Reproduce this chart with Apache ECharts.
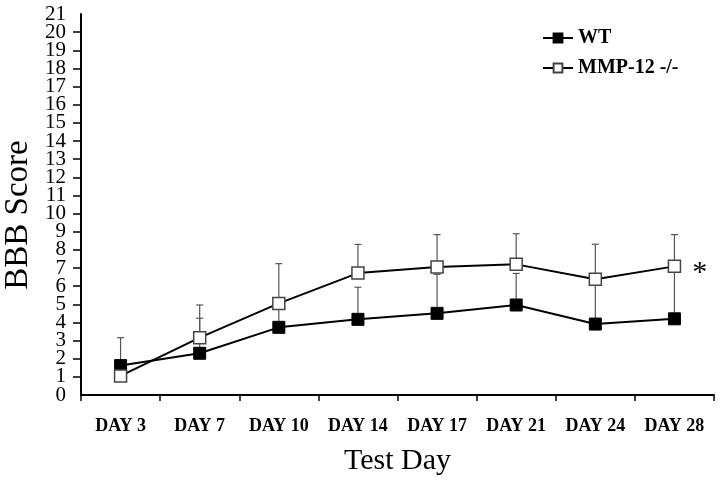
<!DOCTYPE html>
<html>
<head>
<meta charset="utf-8">
<script src="https://cdn.jsdelivr.net/npm/echarts@6/dist/echarts.min.js"></script>
<style>html,body{margin:0;padding:0;background:#fff}#c{width:720px;height:483px}</style>
</head>
<body>
<div id="c"></div>
<script>
const categories = ['DAY 3','DAY 7','DAY 10','DAY 14','DAY 17','DAY 21','DAY 24','DAY 28'];
const wtMean  = [1.62, 2.30, 3.73, 4.17, 4.50, 4.96, 3.91, 4.20];
const wtErr   = [1.54, 1.93, 1.27, 1.77, 2.15, 1.74, 2.45, 2.85];
const mmpMean = [1.05, 3.16, 5.05, 6.72, 7.06, 7.20, 6.38, 7.09];
const mmpErr  = [0.30, 1.80, 2.19, 1.58, 1.78, 1.69, 1.93, 1.75];
const mmpMarks = ['', '', '', '', '', '', '', '*'];
const yTicks = [0, 21, 1]; // min, max, interval

const FONT = "'Liberation Serif','Times New Roman',serif";

function errData(mean, err) {
  return mean.map((m, i) => [i, m, m + err[i]]);
}
function errSeries(mean, err, name) {
  return {
    type: 'custom',
    name: name + ' err',
    z: 1,
    silent: true,
    data: errData(mean, err),
    encode: { x: 0, y: [1, 2] },
    renderItem: function (params, api) {
      const x = api.value(0);
      const lo = api.coord([x, api.value(1)]);
      const hi = api.coord([x, api.value(2)]);
      const hw = 3.5;
      const st = { stroke: '#555', lineWidth: 1.2 };
      return {
        type: 'group',
        children: [
          { type: 'line', shape: { x1: lo[0], y1: lo[1], x2: hi[0], y2: hi[1] }, style: st },
          { type: 'line', shape: { x1: hi[0] - hw, y1: hi[1], x2: hi[0] + hw, y2: hi[1] }, style: st }
        ]
      };
    }
  };
}

const yLabelStyle = { margin: 15, fontFamily: FONT, fontSize: 21, color: '#000', hideOverlap: false };

const chart = echarts.init(document.getElementById('c'), null, { renderer: 'canvas' });
chart.setOption({
  animation: false,
  backgroundColor: '#fff',
  grid: { left: 81, right: 6, top: 14, bottom: 88, containLabel: false },
  legend: {
    orient: 'vertical',
    left: 537,
    top: 23,
    itemWidth: 30,
    itemHeight: 11,
    itemGap: 10,
    data: ['WT', 'MMP-12 -/-'],
    textStyle: { fontFamily: FONT, fontWeight: 'bold', fontSize: 20, color: '#000', lineHeight: 20 }
  },
  xAxis: {
    type: 'category',
    data: categories,
    boundaryGap: true,
    name: 'Test Day',
    nameLocation: 'middle',
    nameGap: 51,
    nameTextStyle: { fontFamily: FONT, fontSize: 30, color: '#000' },
    axisLine: { lineStyle: { color: '#000', width: 2 } },
    axisTick: { show: true, length: 6, lineStyle: { color: '#000', width: 1.5 } },
    axisLabel: { margin: 22, fontFamily: FONT, fontWeight: 'bold', fontSize: 18, color: '#000' },
    splitLine: { show: false }
  },
  yAxis: [{
    type: 'value',
    position: 'left',
    min: yTicks[0],
    max: yTicks[1],
    interval: yTicks[2],
    axisLine: { show: true, lineStyle: { color: '#000', width: 2 } },
    axisTick: { show: true, length: 8, lineStyle: { color: '#000', width: 1.5 } },
    axisLabel: Object.assign({ showMinLabel: false, showMaxLabel: false }, yLabelStyle),
    splitLine: { show: false }
  }, {
    type: 'value',
    position: 'left',
    offset: 0,
    min: yTicks[0],
    max: yTicks[1],
    interval: yTicks[2],
    axisLine: { show: false },
    axisTick: { show: false },
    axisLabel: Object.assign({
      showMinLabel: true, showMaxLabel: true,
      formatter: function (v) { return (v === yTicks[0] || v === yTicks[1]) ? String(v) : ''; }
    }, yLabelStyle),
    splitLine: { show: false }
  }],
  graphic: [{
    type: 'text',
    x: 18,
    y: 215,
    rotation: Math.PI / 2,
    style: {
      text: 'BBB Score',
      fontFamily: FONT,
      fontSize: 33,
      fill: '#000',
      textAlign: 'center',
      textVerticalAlign: 'middle'
    }
  }],
  series: [
    errSeries(wtMean, wtErr, 'WT'),
    errSeries(mmpMean, mmpErr, 'MMP-12 -/-'),
    {
      type: 'line',
      name: 'WT',
      z: 3,
      data: wtMean,
      symbol: 'rect',
      symbolSize: 12,
      lineStyle: { color: '#000', width: 2 },
      itemStyle: { color: '#000', borderColor: '#000', borderWidth: 1 }
    },
    {
      type: 'line',
      name: 'MMP-12 -/-',
      z: 4,
      data: mmpMean.map((v, i) => ({
        value: v,
        label: {
          show: mmpMarks[i] !== '',
          formatter: mmpMarks[i],
          position: 'right',
          distance: 11,
          offset: [0, 7],
          fontFamily: FONT,
          fontSize: 30,
          color: '#000'
        }
      })),
      symbol: 'rect',
      symbolSize: 12,
      lineStyle: { color: '#000', width: 2 },
      itemStyle: { color: '#fff', borderColor: '#444', borderWidth: 1.5 }
    }
  ]
});
</script>
</body>
</html>
